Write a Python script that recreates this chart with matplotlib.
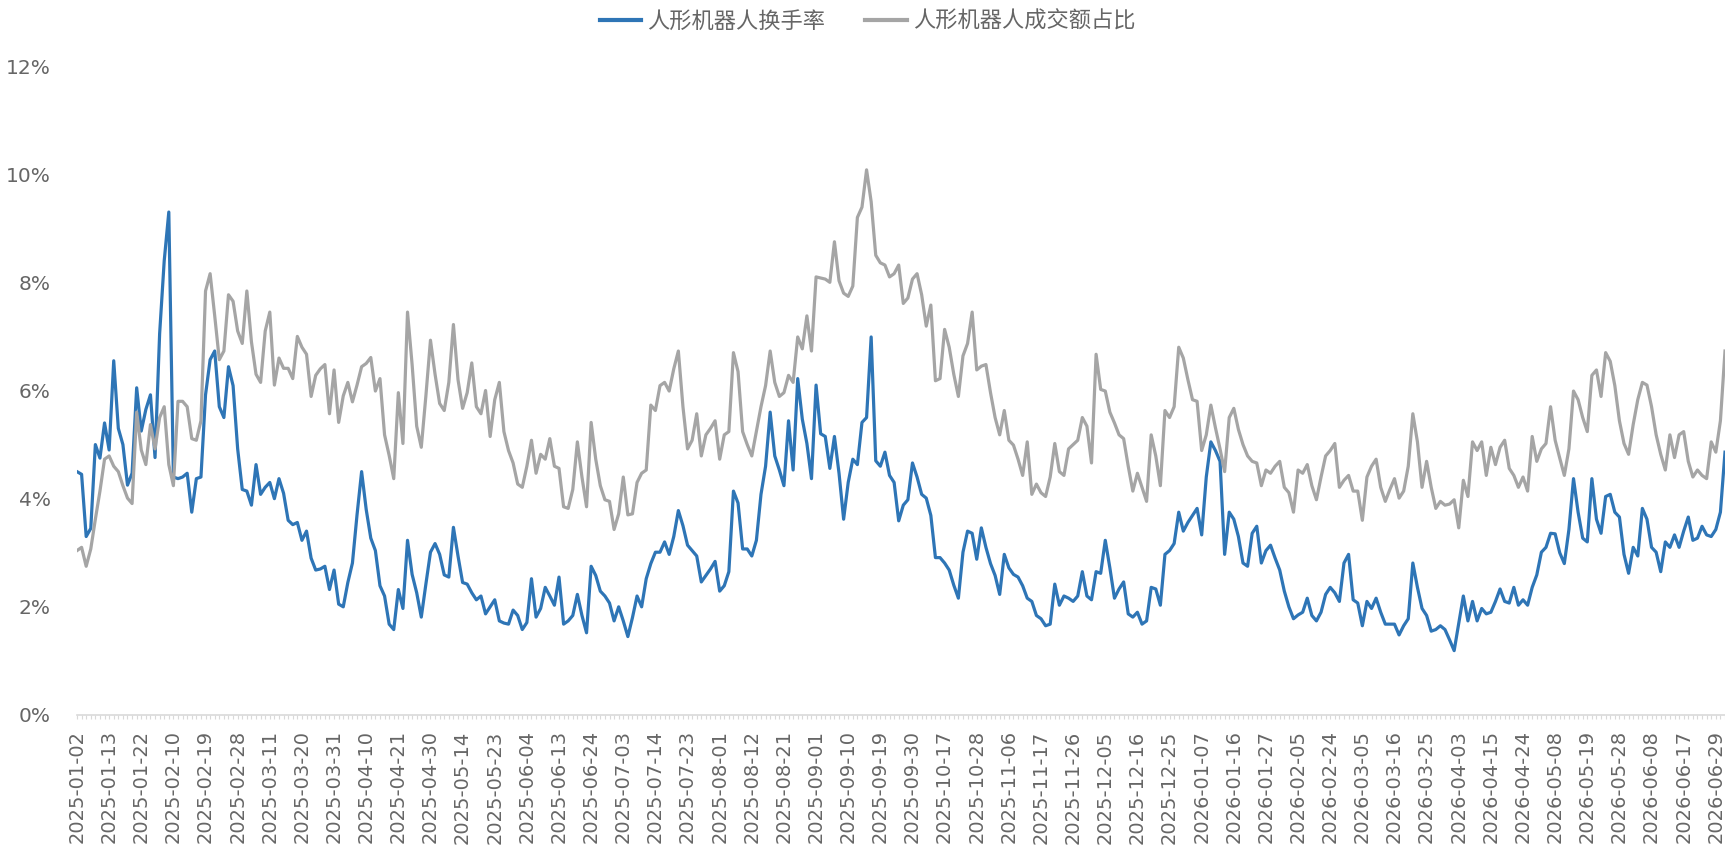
import matplotlib
matplotlib.use("Agg")
import matplotlib.pyplot as plt
import numpy as np
from matplotlib.font_manager import FontProperties
from matplotlib.lines import Line2D

# 人形机器人换手率 (%), daily trading days
turnover = [
    4.50, 4.45, 3.30, 3.45, 5.00, 4.75, 5.40, 4.90, 6.55, 5.30,
    5.00, 4.25, 4.47, 6.05, 5.25, 5.65, 5.92, 4.76, 7.05, 8.40,
    9.30, 4.40, 4.37, 4.40, 4.47, 3.75, 4.37, 4.40, 5.92, 6.57,
    6.73, 5.70, 5.50, 6.44, 6.09, 4.92, 4.17, 4.14, 3.88, 4.63,
    4.08, 4.21, 4.30, 4.00, 4.37, 4.10, 3.60, 3.52, 3.56, 3.23,
    3.40, 2.90, 2.68, 2.70, 2.75, 2.32, 2.68, 2.05, 2.00, 2.45,
    2.81, 3.70, 4.50, 3.80, 3.27, 3.04, 2.39, 2.20, 1.68, 1.58,
    2.32, 1.97, 3.23, 2.60, 2.26, 1.81, 2.42, 3.01, 3.17, 2.97,
    2.59, 2.55, 3.47, 2.94, 2.45, 2.42, 2.26, 2.13, 2.20, 1.87,
    2.00, 2.13, 1.74, 1.70, 1.68, 1.94, 1.84, 1.58, 1.71, 2.52,
    1.81, 1.97, 2.36, 2.20, 2.03, 2.55, 1.68, 1.74, 1.84, 2.23,
    1.84, 1.52, 2.75, 2.58, 2.29, 2.20, 2.07, 1.74, 2.00, 1.74,
    1.45, 1.80, 2.20, 2.00, 2.52, 2.80, 3.01, 3.01, 3.20, 2.97,
    3.30, 3.78, 3.50, 3.14, 3.04, 2.94, 2.46, 2.58, 2.70, 2.84,
    2.29, 2.39, 2.65, 4.14, 3.92, 3.07, 3.07, 2.94, 3.23, 4.08,
    4.60, 5.60, 4.79, 4.53, 4.24, 5.44, 4.53, 6.22, 5.47, 5.02,
    4.37, 6.10, 5.20, 5.15, 4.56, 5.15, 4.47, 3.62, 4.30, 4.73,
    4.63, 5.41, 5.50, 6.99, 4.70, 4.60, 4.86, 4.43, 4.30, 3.59,
    3.88, 3.98, 4.66, 4.40, 4.08, 4.01, 3.69, 2.91, 2.91, 2.81,
    2.68, 2.40, 2.16, 3.01, 3.40, 3.36, 2.88, 3.46, 3.10, 2.80,
    2.58, 2.23, 2.97, 2.72, 2.60, 2.55, 2.39, 2.16, 2.10, 1.84,
    1.78, 1.65, 1.68, 2.42, 2.03, 2.20, 2.16, 2.10, 2.20, 2.65,
    2.20, 2.13, 2.65, 2.62, 3.23, 2.72, 2.16, 2.33, 2.46, 1.87,
    1.81, 1.90, 1.68, 1.74, 2.36, 2.33, 2.03, 2.97, 3.04, 3.17,
    3.75, 3.40, 3.56, 3.69, 3.82, 3.33, 4.40, 5.05, 4.89, 4.69,
    2.97, 3.75, 3.62, 3.30, 2.81, 2.75, 3.36, 3.49, 2.81, 3.04,
    3.14, 2.90, 2.68, 2.29, 2.00, 1.78, 1.85, 1.90, 2.16, 1.84,
    1.74, 1.90, 2.23, 2.36, 2.26, 2.10, 2.81, 2.97, 2.13, 2.07,
    1.65, 2.10, 1.97, 2.16, 1.90, 1.68, 1.68, 1.68, 1.48, 1.65,
    1.78, 2.81, 2.36, 1.97, 1.84, 1.55, 1.58, 1.65, 1.58, 1.39,
    1.19, 1.70, 2.20, 1.74, 2.10, 1.74, 1.97, 1.87, 1.90, 2.10,
    2.33, 2.10, 2.07, 2.36, 2.03, 2.13, 2.03, 2.36, 2.59, 3.01,
    3.10, 3.36, 3.35, 3.00, 2.80, 3.43, 4.37, 3.75, 3.27, 3.20,
    4.37, 3.62, 3.36, 4.04, 4.08, 3.75, 3.66, 2.97, 2.62, 3.10,
    2.94, 3.82, 3.62, 3.10, 3.01, 2.65, 3.20, 3.10, 3.33, 3.10,
    3.40, 3.66, 3.23, 3.27, 3.49, 3.33, 3.30, 3.43, 3.75, 4.86,
]

# 人形机器人成交额占比 (%)
share = [
    3.04, 3.10, 2.75, 3.07, 3.62, 4.14, 4.73, 4.79, 4.60, 4.50,
    4.24, 4.01, 3.91, 5.60, 4.90, 4.63, 5.37, 4.92, 5.50, 5.70,
    4.63, 4.24, 5.80, 5.80, 5.70, 5.11, 5.08, 5.44, 7.84, 8.16,
    7.38, 6.57, 6.73, 7.77, 7.65, 7.10, 6.87, 7.84, 6.90, 6.30,
    6.15, 7.10, 7.45, 6.10, 6.60, 6.41, 6.41, 6.22, 7.00, 6.80,
    6.67, 5.89, 6.28, 6.40, 6.48, 5.57, 6.38, 5.41, 5.90, 6.15,
    5.79, 6.10, 6.44, 6.50, 6.61, 5.99, 6.22, 5.18, 4.80, 4.37,
    5.96, 5.02, 7.45, 6.48, 5.34, 4.95, 5.90, 6.93, 6.30, 5.76,
    5.63, 6.15, 7.22, 6.20, 5.67, 5.96, 6.51, 5.70, 5.57, 6.00,
    5.15, 5.83, 6.15, 5.24, 4.89, 4.66, 4.27, 4.21, 4.60, 5.08,
    4.47, 4.82, 4.73, 5.11, 4.60, 4.56, 3.85, 3.82, 4.17, 5.05,
    4.40, 3.85, 5.41, 4.73, 4.24, 3.98, 3.95, 3.43, 3.72, 4.40,
    3.70, 3.72, 4.30, 4.47, 4.53, 5.73, 5.63, 6.09, 6.15, 5.99,
    6.40, 6.73, 5.70, 4.92, 5.08, 5.57, 4.79, 5.18, 5.30, 5.44,
    4.73, 5.18, 5.24, 6.70, 6.35, 5.24, 5.00, 4.79, 5.24, 5.70,
    6.09, 6.73, 6.15, 5.89, 5.96, 6.28, 6.15, 6.99, 6.77, 7.38,
    6.73, 8.10, 8.08, 8.06, 8.00, 8.75, 8.03, 7.80, 7.74, 7.93,
    9.20, 9.39, 10.08, 9.49, 8.50, 8.36, 8.32, 8.10, 8.16, 8.32,
    7.61, 7.71, 8.06, 8.16, 7.77, 7.19, 7.58, 6.18, 6.22, 7.13,
    6.80, 6.30, 5.89, 6.64, 6.87, 7.45, 6.38, 6.45, 6.48, 5.96,
    5.50, 5.18, 5.63, 5.08, 4.99, 4.73, 4.43, 5.05, 4.08, 4.27,
    4.11, 4.04, 4.40, 5.02, 4.50, 4.43, 4.92, 5.00, 5.08, 5.50,
    5.34, 4.66, 6.67, 6.02, 5.99, 5.60, 5.40, 5.18, 5.11, 4.60,
    4.14, 4.47, 4.21, 3.95, 5.18, 4.79, 4.24, 5.63, 5.50, 5.70,
    6.80, 6.60, 6.20, 5.83, 5.80, 4.89, 5.18, 5.73, 5.31, 4.92,
    4.50, 5.50, 5.67, 5.28, 5.00, 4.79, 4.69, 4.66, 4.24, 4.53,
    4.47, 4.60, 4.69, 4.21, 4.11, 3.75, 4.53, 4.47, 4.63, 4.24,
    3.98, 4.40, 4.79, 4.89, 5.02, 4.21, 4.34, 4.43, 4.14, 4.14,
    3.60, 4.40, 4.60, 4.73, 4.21, 3.95, 4.17, 4.37, 4.01, 4.14,
    4.60, 5.57, 5.05, 4.21, 4.69, 4.21, 3.82, 3.95, 3.88, 3.90,
    3.98, 3.46, 4.34, 4.04, 5.05, 4.89, 5.05, 4.43, 4.95, 4.63,
    4.95, 5.08, 4.56, 4.43, 4.21, 4.40, 4.14, 5.15, 4.69, 4.92,
    5.02, 5.70, 5.08, 4.75, 4.43, 4.92, 5.99, 5.83, 5.50, 5.24,
    6.28, 6.38, 5.89, 6.70, 6.54, 6.09, 5.44, 5.02, 4.82, 5.37,
    5.83, 6.15, 6.10, 5.70, 5.18, 4.82, 4.53, 5.18, 4.76, 5.18,
    5.24, 4.69, 4.40, 4.53, 4.43, 4.37, 5.05, 4.86, 5.44, 6.73,
]

tick_labels = [
    "2025-01-02", "2025-01-13", "2025-01-22", "2025-02-10", "2025-02-19",
    "2025-02-28", "2025-03-11", "2025-03-20", "2025-03-31", "2025-04-10",
    "2025-04-21", "2025-04-30", "2025-05-14", "2025-05-23", "2025-06-04",
    "2025-06-13", "2025-06-24", "2025-07-03", "2025-07-14", "2025-07-23",
    "2025-08-01", "2025-08-12", "2025-08-21", "2025-09-01", "2025-09-10",
    "2025-09-19", "2025-09-30", "2025-10-17", "2025-10-28", "2025-11-06",
    "2025-11-17", "2025-11-26", "2025-12-05", "2025-12-16", "2025-12-25",
    "2026-01-07", "2026-01-16", "2026-01-27", "2026-02-05", "2026-02-24",
    "2026-03-05", "2026-03-16", "2026-03-25", "2026-04-03", "2026-04-15",
    "2026-04-24", "2026-05-08", "2026-05-19", "2026-05-28", "2026-06-08",
    "2026-06-17", "2026-06-29",
]
tick_step = 7
series_names = ["人形机器人换手率", "人形机器人成交额占比"]
y_ticks = [0, 2, 4, 6, 8, 10, 12]

BLUE = "#2E75B6"
GRAY = "#A5A5A5"
TXT = "#666666"

W, H = 1725, 849
fig = plt.figure(figsize=(W / 100, H / 100), dpi=100)
left, right, top, bottom = 77, 1725, 66, 715
ax = fig.add_axes([left / W, 1 - bottom / H, (right - left) / W, (bottom - top) / H])

x = np.arange(len(turnover))
ax.plot(x, turnover, color=BLUE, lw=2.3, solid_joinstyle="round", zorder=2)
ax.plot(x, share, color=GRAY, lw=2.3, solid_joinstyle="round", zorder=3)

ax.set_xlim(0, len(turnover) - 1)
ax.set_ylim(y_ticks[0], y_ticks[-1])

ax.set_xticks(np.arange(0, len(turnover), tick_step)[:len(tick_labels)])
ax.set_xticklabels(tick_labels, rotation=90, fontsize=14, color=TXT, family="DejaVu Sans")
ax.set_xticks(x, minor=True)
ax.tick_params(axis="x", which="both", length=3, width=0.8, color="#D9D9D9", pad=8)

ax.set_yticks(y_ticks)
ax.set_yticklabels([f"{v}%" for v in y_ticks], fontsize=14.5, color=TXT, family="DejaVu Sans")
ax.tick_params(axis="y", length=0, pad=19)

for s in ["top", "right", "left"]:
    ax.spines[s].set_visible(False)
ax.spines["bottom"].set_color("#D9D9D9")
ax.spines["bottom"].set_linewidth(1.2)

handles = [Line2D([], [], color=BLUE, lw=3), Line2D([], [], color=GRAY, lw=3)]
leg = fig.legend(handles, series_names, loc="center", bbox_to_anchor=(0.503, 0.975),
                 ncol=2, frameon=False,
                 prop=FontProperties(family=["Noto Sans CJK SC", "DejaVu Sans"], size=16),
                 handlelength=1.85, handletextpad=0.3, columnspacing=1.8)
for t in leg.get_texts():
    t.set_color(TXT)

fig.savefig("out.png", dpi=100)
